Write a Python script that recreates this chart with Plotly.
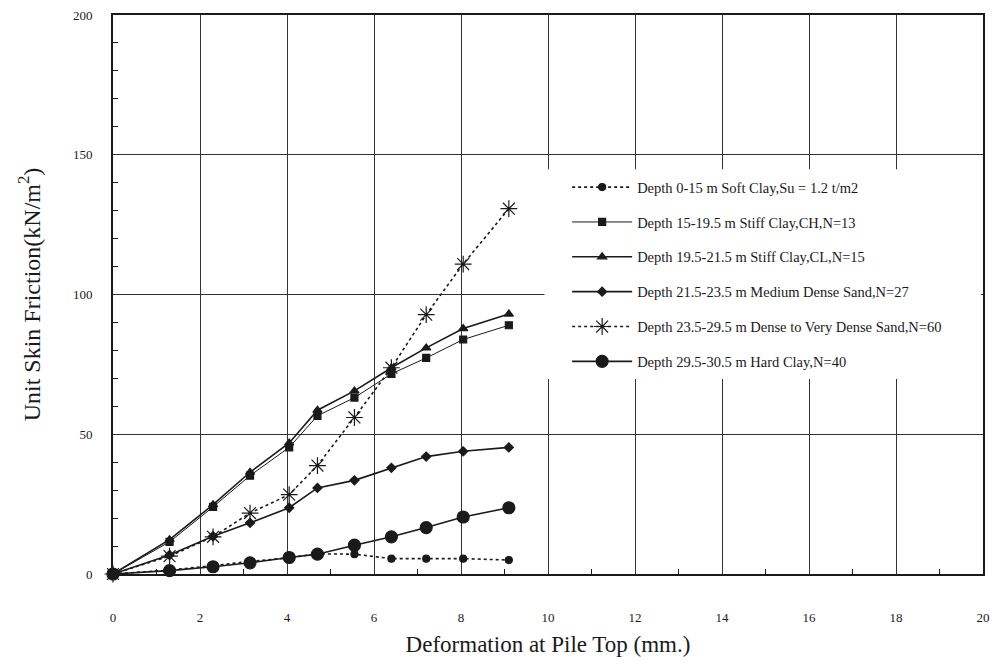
import plotly.graph_objects as go

x_def = [0, 1.3, 2.3, 3.15, 4.05, 4.7, 5.55, 6.4, 7.2, 8.05, 9.1]
soft_clay = [0, 1.4, 3.0, 4.5, 5.8, 7.2, 7.1, 5.5, 5.5, 5.5, 5.0]
stiff_ch = [0, 11.5, 24.0, 35.2, 45.3, 56.6, 63.1, 71.6, 77.3, 83.9, 89.0]
stiff_cl = [0, 12.3, 24.8, 36.4, 46.9, 58.6, 65.5, 73.8, 80.9, 87.8, 93.0]
med_sand = [0, 6.8, 13.5, 18.3, 23.7, 30.8, 33.5, 38.0, 42.0, 43.9, 45.3]
dense_sand = [0, 6.4, 13.3, 21.8, 28.4, 38.8, 56.0, 73.8, 92.8, 110.9, 130.7]
hard_clay = [0, 1.2, 2.6, 4.0, 5.9, 7.1, 10.3, 13.3, 16.6, 20.4, 23.7]

names = [
    "Depth 0-15 m Soft Clay,Su = 1.2 t/m2",
    "Depth 15-19.5 m Stiff Clay,CH,N=13",
    "Depth 19.5-21.5 m Stiff Clay,CL,N=15",
    "Depth 21.5-23.5 m Medium Dense Sand,N=27",
    "Depth 23.5-29.5 m Dense to Very Dense Sand,N=60",
    "Depth 29.5-30.5 m Hard Clay,N=40",
]
x_ticks = list(range(0, 21, 2))
y_ticks = [0, 50, 100, 150, 200]

INK = "#1a1a1a"
FONT = "Liberation Serif"

series = [
    (soft_clay, names[0], "dot", 1.6, "circle", 7),
    (stiff_ch, names[1], "solid", 1.0, "square", 7),
    (stiff_cl, names[2], "solid", 1.6, "triangle-up", 8),
    (med_sand, names[3], "solid", 1.6, "diamond", 7),
    (dense_sand, names[4], "dot", 1.6, "asterisk-open", 14),
    (hard_clay, names[5], "solid", 1.6, "circle", 12),
]

fig = go.Figure()
for i, (ys, nm, dash, lw, sym, ms) in enumerate(series):
    fig.add_trace(go.Scatter(
        x=x_def, y=ys, name=nm, mode="lines+markers",
        legendgroup=f"g{i}",
        line=dict(color=INK, width=lw, dash=dash),
        marker=dict(symbol=sym, size=ms, color=INK,
                    line=dict(color=INK, width=1.2)),
        cliponaxis=False,
    ))

# white area behind legend covering grid lines
fig.add_shape(type="rect", xref="x", yref="y", x0=9.92, x1=19.95, y0=69.8, y1=144.8,
              fillcolor="white", line=dict(width=0), layer="above")

fig.update_layout(
    width=998, height=665,
    margin=dict(l=113, r=8, t=12, b=91),
    paper_bgcolor="white", plot_bgcolor="white",
    font=dict(family=FONT, color=INK, size=13),
    showlegend=True,
    legend=dict(x=0.522, y=0.7206, xanchor="left", yanchor="top",
                bgcolor="rgba(0,0,0,0)", borderwidth=0,
                font=dict(family=FONT, size=14.5, color=INK),
                itemwidth=60, tracegroupgap=13),
)
fig.update_xaxes(
    range=[0, 20], tickvals=x_ticks, ticktext=[str(v) for v in x_ticks],
    showgrid=True, gridcolor="#333333", gridwidth=1, zeroline=False,
    showline=True, linecolor=INK, linewidth=2, mirror=True,
    ticks="", ticklabelstandoff=30,
    tickfont=dict(family=FONT, size=13, color=INK),
    minor=dict(tickvals=[v for v in range(1, 20, 2)], ticks="inside", ticklen=5,
               tickcolor=INK, showgrid=False),
    title=dict(text="Deformation at Pile Top (mm.)",
               font=dict(family=FONT, size=23, color=INK), standoff=12),
)
fig.update_yaxes(
    range=[0, 200], tickvals=y_ticks, ticktext=[str(v) for v in y_ticks],
    showgrid=True, gridcolor="#333333", gridwidth=1, zeroline=False,
    showline=True, linecolor=INK, linewidth=2, mirror=True,
    ticks="", ticklabelstandoff=16,
    tickfont=dict(family=FONT, size=13, color=INK),
    minor=dict(tickvals=[v for v in range(10, 200, 10) if v % 50], ticks="inside",
               ticklen=5, tickcolor=INK, showgrid=False),
    title=dict(text="Unit Skin Friction(kN/m<sup>2</sup>)",
               font=dict(family=FONT, size=24, color=INK), standoff=26),
)

fig.write_html("out.html")
